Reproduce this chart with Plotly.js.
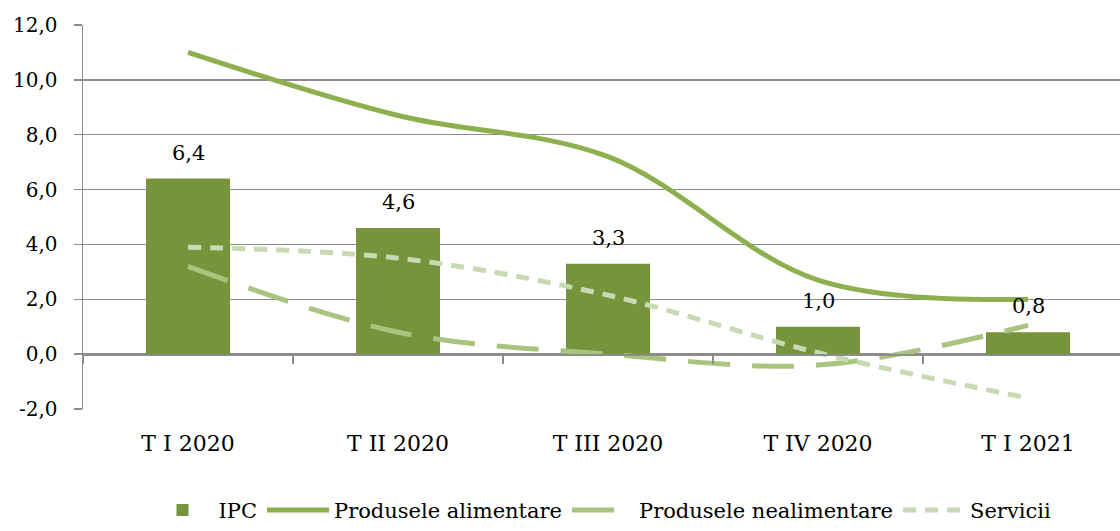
<!DOCTYPE html>
<html>
<head>
<meta charset="utf-8">
<script src="https://cdn.plot.ly/plotly-3.0.1.min.js"></script>
<style>html,body{margin:0;padding:0;background:#fff;}#chart{width:1120px;height:531px;}</style>
</head>
<body>
<div id="chart"></div>
<script>
const categories = ["T I 2020", "T II 2020", "T III 2020", "T IV 2020", "T I 2021"];
const ipc = [6.4, 4.6, 3.3, 1.0, 0.8];
const alimentare = [11.0, 8.7, 7.2, 2.7, 2.0];
const nealimentare = [3.2, 0.8, 0.0, -0.4, 1.05];
const servicii = [3.9, 3.5, 2.15, 0.05, -1.6];
const yTicks = [-2, 0, 2, 4, 6, 8, 10, 12];

const FONT = "DejaVu Serif";
const fmt = v => v.toFixed(1).replace(".", ",");

const traces = [
  {type: "bar", name: "IPC", x: categories, y: ipc, width: 0.4,
   marker: {color: "#77933C"}, hoverinfo: "skip"},
  {type: "scatter", mode: "lines", name: "Produsele alimentare", x: categories, y: alimentare,
   line: {color: "#8DB04E", width: 5, shape: "spline", smoothing: 1}},
  {type: "scatter", mode: "lines", name: "Produsele nealimentare", x: categories, y: nealimentare,
   line: {color: "#A9C47F", width: 5, shape: "spline", smoothing: 1, dash: "42px,22px"}},
  {type: "scatter", mode: "lines", name: "Servicii", x: categories, y: servicii,
   line: {color: "#C7DAB3", width: 5, shape: "spline", smoothing: 1, dash: "13px,9px"}},
  {type: "scatter", mode: "lines", x: categories, y: categories.map(() => null), xaxis: "x2",
   showlegend: false, hoverinfo: "skip"}
];

const xr = [-0.5, -0.5 + 1037 / 210];

const layout = {
  width: 1120, height: 531,
  margin: {l: 83, r: 0, t: 25, b: 122},
  paper_bgcolor: "#fff", plot_bgcolor: "#fff",
  separators: ", ",
  font: {family: FONT, color: "#000", size: 20},
  showlegend: true,
  barmode: "overlay",
  xaxis: {type: "category", range: xr, showline: false, ticks: "", showgrid: false,
          tickfont: {size: 22, family: FONT}, ticklabelstandoff: 19, zeroline: false, automargin: false},
  xaxis2: {type: "category", overlaying: "x", anchor: "free", position: 2 / 14, side: "bottom",
           range: xr, showline: true, linecolor: "#8C8C8C", linewidth: 1.5,
           ticks: "outside", tickson: "boundaries", ticklen: 8, tickcolor: "#8C8C8C", tickwidth: 1.5,
           showticklabels: false, showgrid: false, zeroline: false, automargin: false},
  yaxis: {range: [-2, 12], tickvals: yTicks, ticktext: yTicks.map(fmt),
          showgrid: true, gridcolor: "#8C8C8C", gridwidth: 1.5, zeroline: false,
          showline: true, linecolor: "#8C8C8C", linewidth: 1.5,
          ticks: "outside", ticklen: 8, tickcolor: "#8C8C8C", tickwidth: 1.5,
          ticklabelstandoff: 12, tickfont: {size: 20, family: FONT}, automargin: false},
  legend: {orientation: "h", x: 0.5, xanchor: "center", y: -0.317, yanchor: "bottom",
           font: {size: 21, family: FONT, color: "#000"}, traceorder: "normal", itemwidth: 62, borderwidth: 0},
  annotations: categories.map((c, i) => ({
    x: c, y: ipc[i], xref: "x", yref: "y", text: fmt(ipc[i]), showarrow: false,
    yshift: 26, font: {size: 21, family: FONT, color: "#000"}
  }))
};

Plotly.newPlot("chart", traces, layout, {staticPlot: true, displayModeBar: false});
</script>
</body>
</html>
